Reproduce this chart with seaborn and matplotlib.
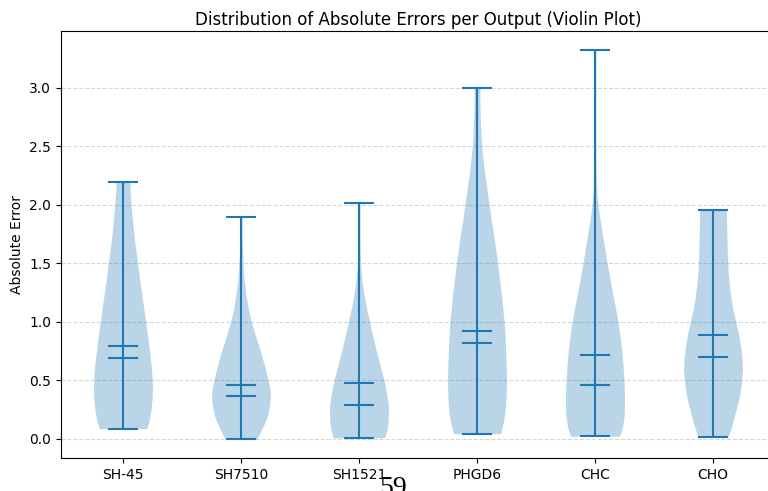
import numpy as np
import pandas as pd
import matplotlib
matplotlib.use("Agg")
import matplotlib.pyplot as plt
import seaborn as sns

# ---- data ----
outputs = ["SH-45", "SH7510", "SH1521", "PHGD6", "CHC", "CHO"]
mins    = [0.088, 0.003, 0.010, 0.045, 0.023, 0.014]
maxs    = [2.194, 1.894, 2.020, 3.000, 3.320, 1.960]
means   = [0.791, 0.457, 0.480, 0.926, 0.720, 0.891]
medians = [0.688, 0.371, 0.290, 0.823, 0.457, 0.697]

# density profiles (relative half-width) read at value levels
sh45_levels   = [0.088, 0.15, 0.25, 0.35, 0.45, 0.55, 0.65, 0.75, 0.875, 1.0, 1.125,
                 1.25, 1.375, 1.5, 1.625, 1.75, 1.875, 2.0, 2.1, 2.194]
sh45_density  = [0.80, 0.88, 0.95, 0.99, 1.00, 0.98, 0.95, 0.90, 0.84, 0.77, 0.70,
                 0.63, 0.56, 0.50, 0.43, 0.37, 0.32, 0.28, 0.25, 0.23]
sh7510_levels = [0.003, 0.05, 0.10, 0.15, 0.20, 0.275, 0.35, 0.425, 0.50, 0.625, 0.75,
                 0.875, 1.0, 1.125, 1.25, 1.375, 1.5, 1.625, 1.75, 1.894]
sh7510_density= [0.54, 0.64, 0.74, 0.83, 0.90, 0.96, 1.00, 0.98, 0.92, 0.80, 0.66,
                 0.50, 0.35, 0.24, 0.16, 0.10, 0.07, 0.05, 0.04, 0.04]
sh1521_levels = [0.010, 0.08, 0.15, 0.22, 0.30, 0.40, 0.50, 0.625, 0.75, 0.875, 1.0,
                 1.125, 1.25, 1.375, 1.5, 1.625, 1.75, 2.020]
sh1521_density= [0.87, 0.95, 0.99, 1.00, 0.99, 0.93, 0.85, 0.72, 0.59, 0.47, 0.36,
                 0.25, 0.16, 0.09, 0.05, 0.04, 0.035, 0.035]
phgd6_levels  = [0.045, 0.15, 0.25, 0.375, 0.5, 0.625, 0.75, 0.875, 1.0, 1.125, 1.25,
                 1.375, 1.5, 1.625, 1.75, 1.875, 2.0, 2.125, 2.25, 2.375, 2.5,
                 2.625, 2.75, 2.875, 3.0]
phgd6_density = [0.80, 0.90, 0.96, 0.99, 1.00, 0.99, 0.97, 0.95, 0.92, 0.87, 0.82,
                 0.76, 0.70, 0.63, 0.56, 0.48, 0.41, 0.34, 0.27, 0.21, 0.16,
                 0.13, 0.11, 0.10, 0.10]
chc_levels    = [0.023, 0.1, 0.2, 0.3, 0.4, 0.5, 0.625, 0.75, 0.875, 1.0, 1.125,
                 1.25, 1.375, 1.5, 1.625, 1.75, 1.875, 2.0, 2.125, 2.25, 2.5,
                 2.75, 3.0, 3.320]
chc_density   = [0.83, 0.93, 0.99, 1.00, 1.00, 0.98, 0.95, 0.91, 0.85, 0.78, 0.69,
                 0.59, 0.50, 0.41, 0.33, 0.25, 0.17, 0.10, 0.06, 0.04, 0.03,
                 0.03, 0.03, 0.03]
cho_levels    = [0.014, 0.1, 0.2, 0.3, 0.4, 0.5, 0.6, 0.7, 0.8, 0.9, 1.0,
                 1.1, 1.2, 1.3, 1.4, 1.5, 1.625, 1.75, 1.875, 1.960]
cho_density   = [0.50, 0.62, 0.73, 0.84, 0.92, 0.97, 1.00, 0.98, 0.93, 0.86, 0.77,
                 0.68, 0.61, 0.56, 0.52, 0.50, 0.48, 0.47, 0.46, 0.45]

levels = [sh45_levels, sh7510_levels, sh1521_levels, phgd6_levels, chc_levels, cho_levels]
densities = [sh45_density, sh7510_density, sh1521_density, phgd6_density, chc_density, cho_density]

stats_df = pd.DataFrame({"output": outputs, "min": mins, "max": maxs,
                         "mean": means, "median": medians})

color = sns.color_palette("tab10")[0]

fig = plt.figure(figsize=(7.68, 4.91), dpi=100)
ax = fig.add_axes([61 / 768, 33 / 491, 714 / 768, 427 / 491])

vpstats = []
for i, row in stats_df.iterrows():
    vpstats.append({
        "coords": np.array(levels[i], dtype=float),
        "vals": np.array(densities[i], dtype=float),
        "mean": row["mean"], "median": row["median"],
        "min": row["min"], "max": row["max"],
    })

positions = np.arange(1, len(outputs) + 1)
parts = ax.violin(vpstats, positions=positions, widths=0.5,
                  showmeans=True, showextrema=True, showmedians=True)
for body in parts["bodies"]:
    body.set_facecolor(color)
    body.set_edgecolor(color)
    body.set_alpha(0.3)
    body.set_linewidth(0)
for key in ("cmeans", "cmins", "cmaxes", "cbars", "cmedians"):
    parts[key].set_color(color)
    parts[key].set_linewidth(1.5)

ax.set_xticks(positions)
ax.set_xticklabels(outputs)
ax.set_ylabel("Absolute Error")
ax.set_title("Distribution of Absolute Errors per Output (Violin Plot)", fontsize=12, pad=4.5)
ax.yaxis.grid(True, linestyle="--", alpha=0.5)
ax.set_axisbelow(True)

fig.text(393 / 768, -0.008, "59", family="Liberation Serif", fontsize=20,
         ha="center", va="baseline", color="black")

fig.savefig("out.png", dpi=100)
